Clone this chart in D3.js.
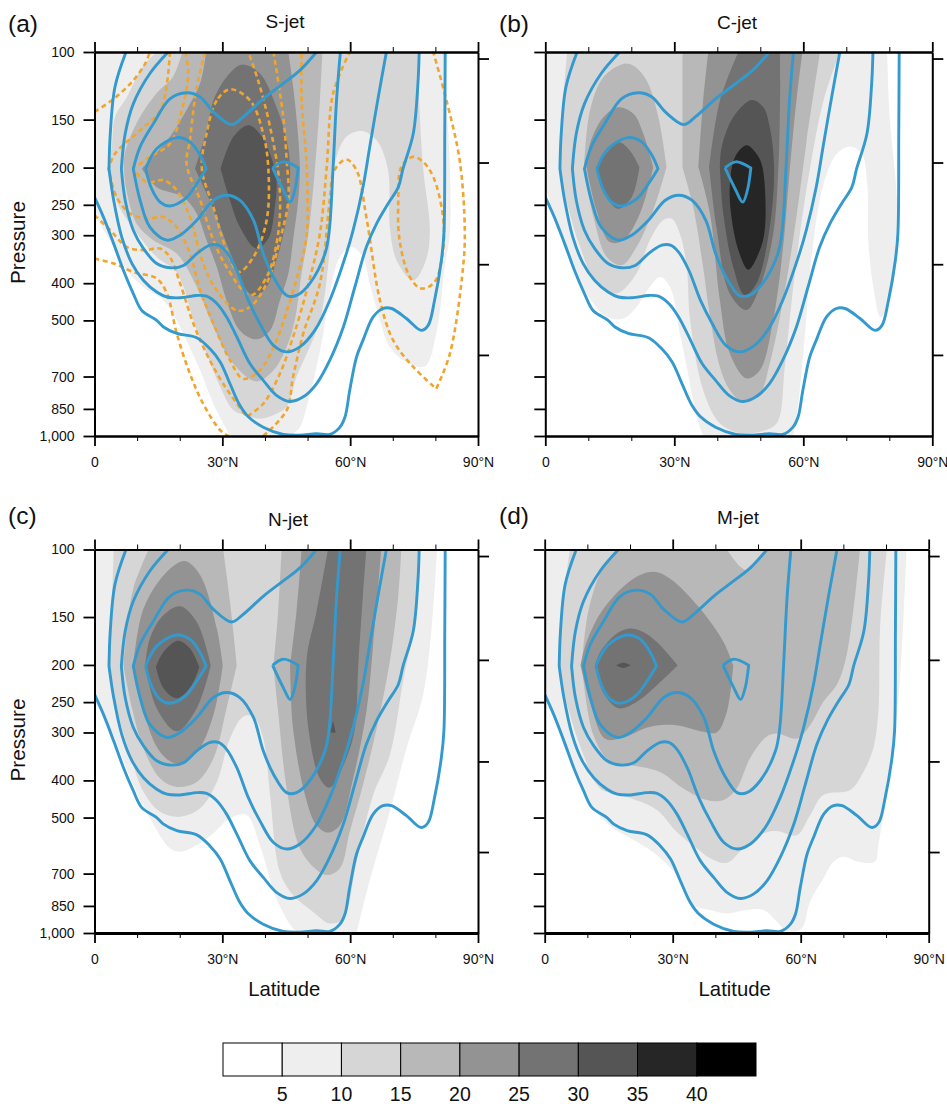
<!DOCTYPE html>
<html>
<head>
<meta charset="utf-8">
<script src="https://cdn.jsdelivr.net/npm/d3@7"></script>
<style>
  html, body { margin: 0; padding: 0; background: #fff; }
  svg { display: block; font-family: "Liberation Sans", Arial, sans-serif; }
  .tick text { font-size: 14px; fill: #111; }
  .axis path { stroke: #000; stroke-width: 2px; }
  .axis .tick line { stroke: #000; stroke-width: 1.8px; }
  .axis.minor .tick line { stroke-width: 1px; }
</style>
</head>
<body>
<div id="wrap"></div>
<script>
//  All contours were read off the picture. Every point is
//  [latitude in degrees, log10(pressure / 100 hPa)], a third element of 1 marks a corner.

const latTicks = [0, 30, 60, 90];
const latMinorTicks = [10, 20, 40, 50, 70, 80];
const pressureTicks = [100, 150, 200, 250, 300, 400, 500, 700, 850, 1000];
const rightPressureTicks = [104, 194, 357, 615];
const shadeLevels = [5, 10, 15, 20, 25, 30, 35, 40];
const shadeColors = ["#ffffff", "#eeeeee", "#d6d6d6", "#b8b8b8", "#939393", "#737373", "#555555", "#262626", "#000000"];

//  Blue climatology contours, the same in all four panels
const blue1 = [[0,.378],[2.1,.43],[4.5,.499],[6.8,.569],[9.1,.629],[11.1,.673],[14.6,.699],[16.2,.716],[19.3,.733],[24,.744],[27.1,.773],[29.5,.807],[31.8,.864],[34.1,.92],[36.1,.95],[39.6,.977],[44.3,.996],[48.2,.998],[52.1,.994],[55.2,.996],[57.6,.977],[58.8,.95],[59.9,.881],[61.5,.794],[63,.751],[65.4,.69],[67.7,.668],[69.7,.668],[73.2,.694],[76.7,.725],[78.3,.712],[79.8,.647],[81.4,.543],[82,.473],[82.2,.213],[82.3,0]];
const blue2 = [[7.4,0],[4.8,.091],[3.7,.213],[3.4,.304,1],[4.5,.386],[6.4,.482],[8.8,.551],[11.5,.595],[14.6,.625],[17,.638],[20.1,.64],[24,.634],[26.3,.636],[28.7,.655],[31,.69],[33.4,.742],[36.5,.812],[39.6,.855],[42.7,.894],[45.9,.91],[49,.898],[52.1,.864],[55.2,.803],[58.4,.716],[61.1,.612],[63.8,.508],[66.2,.447],[68.9,.395],[71.3,.352],[72.4,.304],[74.8,.213],[75.9,.082],[76.2,0]];
const blue3 = [[17.3,0],[13,.056],[9.1,.135],[7.2,.213],[6.3,.304,1],[7.2,.386],[9.1,.464],[11.5,.512],[14.6,.551],[17.7,.562],[20.9,.556],[24,.525],[27.1,.503],[29.1,.503],[31,.521],[33.4,.569],[36.1,.647],[38.8,.707],[42,.764],[45.1,.781],[48.2,.768],[51.7,.725],[55.2,.647],[59.1,.525],[60.7,.464],[63,.352],[64.6,.247],[66.6,.117],[68.5,0]];
const blue4 = [[52.1,0],[48.2,.048],[44.3,.082],[39.6,.122],[34.9,.169],[32.2,.189],[27.9,.156],[24.8,.117],[21.6,.106],[17.7,.122],[13.8,.187],[10.7,.247],[9.1,.304,1],[10.7,.386],[13,.456],[17,.49],[20.1,.477],[24,.438],[27.9,.386],[31,.373],[34.1,.386],[37.3,.438],[39.6,.525],[42,.586],[45.1,.634],[47.4,.634],[50.5,.603],[54.1,.525],[55.1,.464],[56,.299],[56.8,.126],[57.7,0]];
const blue5 = [[12,.304,1],[14.6,.252],[19.3,.223],[22.4,.234],[24.8,.269],[26.2,.304,1],[24,.343],[21.3,.382],[17.7,.401],[15.4,.391],[13.4,.356]];
const blue6 = [[41.8,.302,1],[44.3,.286],[47.8,.302,1],[47,.36],[45.9,.391],[44.3,.36]];

//  Orange dashed contours of panel (a)
const orange1 = [[0,.156],[4.5,.122],[9.1,.074],[11.9,.03],[13,0]];
const orange2 = [[0,.538],[4.5,.551],[9.1,.573],[14.6,.59],[17,.629],[19.3,.733],[22.4,.838],[25.5,.916],[29.5,.985],[31.4,1]];
const orange3 = [[39.6,1],[45.1,.933],[46.6,.846],[49,.733],[52.9,.603],[55.2,.386],[56.3,.308],[59.1,.28],[61.5,.308],[63.8,.43],[67,.647],[70.1,.751],[74.8,.82],[80.2,.877,1],[83.4,.786],[86.5,.56],[86.9,.464],[85.7,.282],[82.6,.126],[79.5,0]];
const orange4 = [[0,.425],[3.7,.464],[7.6,.508],[11.5,.516],[15.4,.512],[17.7,.534],[20.1,.603],[23.2,.707],[26.3,.786],[30.2,.864],[35.7,.95,1],[39.6,.916],[43.5,.838],[46.6,.742],[49.8,.621],[52.9,.473],[54.5,.299],[56,.108],[59.9,0]];
const orange5 = [[17.7,0],[17,.082],[15.4,.152],[10.7,.204],[4.8,.265],[3.3,.304,1],[5.2,.378],[8.4,.421],[12.3,.434],[16.2,.43],[19.3,.456],[22.4,.525],[24.8,.621],[27.9,.707],[31.8,.803],[34.9,.851],[38.8,.829],[42.7,.751],[45.9,.647],[48.2,.56],[49.8,.473],[49.8,.299],[48.6,.126],[48.6,0]];
const orange6 = [[21.3,0],[22,.056],[20.5,.152],[17.7,.239],[13,.273],[9.1,.304,1],[12.3,.339],[16.2,.334],[19.3,.36],[22.4,.43],[25.5,.551],[28.7,.621],[33.4,.673],[36.5,.664],[40.4,.603],[43.5,.49],[45.5,.386],[45.1,.282],[44.3,.169],[42,0]];
const orange7 = [[25.9,0],[24,.091],[23.2,.152],[22.4,.23],[21.6,.291],[24.8,.386],[27.9,.49],[31,.56],[36.5,.634],[40.4,.586],[43.1,.473],[43.4,.343],[41.2,.195],[38.4,.074],[36.1,0]];
const orange8 = [[31.8,.097],[28.7,.126],[26.3,.213],[25.2,.304],[27.9,.404],[31,.516],[33.8,.573],[37.3,.534],[40.4,.438],[40.8,.304],[39.6,.213],[36.5,.126]];
const orange9 = [[74.8,.273],[72,.299],[71.3,.386],[71.6,.49],[74,.586],[76.7,.616],[79.8,.599],[81.8,.516],[81.8,.43],[79.5,.325],[77.1,.286]];

//  Shaded regions of S-jet
const sjet5 = [[0,0,1],[0,.421,1],[1.3,.447],[4.5,.508],[7.6,.569],[11.5,.612],[16.2,.647],[19.3,.699],[21.6,.751],[24.8,.829],[27.9,.916],[31.8,1,1],[45.9,1,1],[48.2,.977],[49.8,.924],[52.1,.82],[53.7,.733],[55.2,.629],[57.6,.534],[60.3,.508],[63,.534],[64.6,.603],[67,.699],[69.3,.768],[73.2,.807],[77.5,.819],[80.2,.733],[82.2,.56],[83.4,.473],[83.4,.299],[82.6,.126],[82.2,0,1]];
const sjet10 = [[14.6,0,1],[11.5,.035],[7.6,.117],[4.8,.169],[4.1,.239],[3.3,.304,1],[4.8,.378],[7.2,.43],[10.3,.477],[14.6,.534],[18.9,.569],[20.9,.612],[23.2,.699],[26.3,.786],[29.5,.872],[32.6,.933],[35.7,.946],[38.8,.955],[42.7,.942],[45.1,.924],[47.4,.846],[49.8,.786],[52.9,.699],[54.8,.56],[55.6,.43],[56.4,.291],[59.1,.221],[62.7,.206],[66.2,.23],[68.9,.308],[69.3,.456],[70.9,.543],[74.8,.595],[77.5,.551],[78.7,.473],[77.1,.299],[76.2,.126],[75.9,0,1]];
const sjet15 = [[20.6,0,1],[18.4,.065],[14.6,.107],[9.9,.185],[7,.27],[7,.32],[8,.386],[9.9,.447],[13.8,.49],[19.3,.525],[24,.612],[27.9,.716],[32.6,.812],[38,.858],[42,.829],[45.1,.768],[47,.699],[48.6,.577],[50.2,.473],[51.7,.308],[52.9,.126],[53.5,0,1]];
const sjet20 = [[26.2,0,1],[24.8,.081],[21.6,.151],[17.7,.221],[14.6,.262],[11.1,.304,1],[14.6,.352],[20.9,.378],[24,.421],[26.3,.49],[28.7,.56],[31,.647],[34.1,.725],[38,.748],[41.2,.725],[43.5,.647],[45.5,.577],[46.6,.49],[47.8,.386],[48.2,.299],[47,.126],[45.5,0,1]];
const sjet25 = [[34.5,.033],[31,.065],[27.9,.126],[26.3,.204],[23.6,.304,1],[26.7,.378],[29.5,.456],[32.6,.543],[35.7,.621],[37.7,.636],[40.4,.612],[42.7,.543],[45.1,.43],[45.9,.304],[45.1,.23],[42.7,.143],[38.8,.056]];
const sjet30 = [[36.1,.191],[32.6,.221],[29.6,.304,1],[31.8,.386],[34.1,.456],[38,.512],[40.8,.486],[42.3,.404],[42.7,.334],[41.2,.265],[38.8,.213]];

//  Shaded regions of C-jet
const cjet5 = [[0,0,1],[0,.352,1],[2.6,.438],[5.7,.534],[9.6,.629],[14.3,.69],[18.1,.694],[21.2,.664],[24.3,.612],[26.7,.586],[29,.612],[31.3,.733],[32.9,.82],[35.2,.95],[36.7,1,1],[57.7,1,1],[58.9,.91],[60.4,.733],[62,.527],[64.7,.344],[67.8,.265],[70.9,.246],[73.6,.265],[74.9,.352],[75.1,.49],[76.3,.612],[78,.69],[79.7,.664],[81.7,.543],[81.8,.387],[80.1,.17],[79.5,0,1]];
const cjet10 = [[5.1,0,1],[3.8,.17],[3.3,.3,1],[5.3,.404],[8.1,.508],[11.9,.603],[16.6,.629],[21.2,.577],[24.3,.49],[27.4,.438],[29.4,.434],[31.3,.473],[32.9,.56],[33.6,.69],[36.7,.88],[40.6,.967],[45.3,.993],[49.9,.989],[53.8,.967],[55.7,.82],[57.3,.647],[59.2,.473],[61.6,.3],[64.7,.127],[68.5,0,1]];
const cjet15a = [[18.1,.031],[13.5,.066],[10.4,.152],[9,.3,1],[11.2,.43],[14.3,.534],[17.8,.555],[21.2,.508],[25.1,.412],[28.2,.3,1],[26.3,.17],[23.6,.075],[20.5,.036]];
const cjet15b = [[31.9,0,1],[31.9,.3,1],[34.4,.404],[36.7,.56],[38.3,.69],[40.6,.82],[42.9,.88],[46,.911],[49.9,.889],[52.2,.811],[55.3,.647],[58.4,.43],[60.8,.23],[63.9,0,1]];
const cjet20a = [[17,.144],[13.5,.17],[10.4,.239],[9.6,.3,1],[11.9,.412],[15,.495],[18.1,.49],[22,.421],[25.1,.3,1],[22.8,.213],[20.5,.161]];
const cjet20b = [[37.9,0,1],[36.7,.127],[35.6,.3,1],[38.3,.421],[40.6,.647],[42.9,.785],[46.8,.85],[49.9,.829],[53,.698],[55.3,.508],[56.9,.3],[58.4,.127],[59.8,0,1]];
const cjet25a = [[17,.235],[11.9,.3,1],[14.3,.378],[17,.408],[20.1,.378],[21.9,.3,1],[19.7,.257]];
const cjet25b = [[44.9,0,1],[40.6,.127],[38.1,.3,1],[39.8,.456],[42.9,.629],[46.8,.672],[49.9,.612],[53,.473],[54.2,.3],[54.6,.127],[54.6,0,1]];
const cjet30 = [[48,.125],[43.7,.17],[41,.248],[40.6,.3,1],[41.4,.421],[43.7,.56],[46.4,.633],[49.1,.603],[52.2,.456],[53.2,.3],[52.2,.196],[50.7,.144]];
const cjet35 = [[46.8,.243],[44.1,.274],[42.9,.352],[43.3,.43],[44.9,.516],[47.2,.567],[49.9,.516],[51.1,.456],[50.5,.3],[49.1,.265]];

//  Shaded regions of N-jet
const njet5 = [[0,0,1],[0,.397,1],[3.7,.467],[9.1,.614],[13,.701],[17.7,.779],[20.1,.788],[24,.771],[27.9,.74],[31.8,.701],[35.7,.692],[38.8,.771],[42.7,.91],[46.6,.988],[48.2,1,1],[61.5,1,1],[62.7,.944],[65.4,.831],[69.3,.684],[73.2,.519],[77.1,.38],[79.1,.206],[80.4,0,1]];
const njet10 = [[4.5,0,1],[4,.162],[3.3,.302,1],[5.2,.414],[8.4,.536],[11.5,.632],[15.4,.684],[20.1,.697],[24.8,.675],[28.7,.606],[31.8,.493],[34.9,.436],[37.3,.436],[39.6,.493],[41.2,.64],[43.5,.84],[46.6,.901],[51.3,.945],[55.2,.975],[58.4,.962],[61.5,.814],[65.4,.64],[69.3,.536],[72.4,.345],[75.5,.162],[76.2,0,1]];
const njet15a = [[12.7,0,1],[9.1,.102],[7.6,.206],[6.8,.302,1],[8.8,.414],[11.5,.519],[15.4,.597],[19.3,.619],[24,.606],[27.9,.545],[31,.414],[33.4,.302,1],[31.8,.136],[30.2,0,1]];
const njet15b = [[43.9,0,1],[43.1,.162],[42,.302,1],[43.1,.423],[45.1,.623],[48.2,.779],[51.7,.831],[54.5,.849],[57.6,.831],[59.9,.736],[63,.614],[66.2,.467],[69.3,.293],[71.3,.119],[72,0,1]];
const njet20a = [[21.2,.03],[17,.058],[11.5,.154],[9.1,.302,1],[11.5,.423],[15.4,.528],[19.3,.558],[24,.528],[27.9,.432],[30.1,.302,1],[28.7,.206],[24.8,.067]];
const njet20b = [[48.6,0,1],[47.4,.162],[45.9,.302,1],[46.6,.467],[49.4,.64],[52.1,.719],[54.8,.738],[57.6,.719],[60.7,.597],[63.8,.423],[65.4,.249],[67.3,0,1]];
const njet25a = [[20.1,.148],[16.2,.171],[13,.232],[11.9,.302,1],[14.6,.414],[19.3,.474],[24,.414],[27.3,.302,1],[24,.189]];
const njet25b = [[54.8,0,1],[52.1,.162],[49.8,.284],[50.2,.467],[52.9,.597],[55.2,.621],[59.1,.545],[61.1,.467],[61.9,.302],[63,.119],[63.8,0,1]];
const njet30a = [[19.6,.238],[16.2,.267],[14.4,.306,1],[16.2,.362],[19.3,.388],[22.8,.354],[24.6,.306,1],[22.4,.258]];
const njet30b = [[56,.447,1],[55.4,.477,1],[56.6,.477,1]];

//  Shaded regions of M-jet
const mjet5 = [[0,0,1],[0,.371,1],[3.6,.467],[7.5,.58],[11.4,.675],[16.1,.727],[21.6,.762],[26.3,.797],[30.9,.849],[34.8,.927],[38.7,.94],[42.6,.949],[47.3,.94],[51.3,.94],[54.4,.97],[56.7,.995],[60.2,.988],[62.2,.918],[65.3,.858],[67.7,.814],[70,.801],[73.5,.814],[77.4,.814],[78.2,.771],[80.9,.58],[83.3,.336],[84.8,0,1]];
const mjet10 = [[5.9,0,1],[4,.162],[3.4,.302,1],[5.5,.414],[9.1,.536],[13,.623],[19.2,.645],[26.3,.679],[30.9,.736],[35.6,.779],[38.8,.805],[42.7,.817],[46.6,.779],[51.3,.74],[54.4,.734],[59.1,.745],[62.2,.693],[65.3,.64],[71.6,.627],[74.7,.58],[77,.519],[78.2,.423],[78.6,.206],[80.2,0,1]];
const mjet15 = [[17.3,0,1],[13.4,.054],[10.2,.162],[8.7,.302,1],[11.4,.484],[15.3,.553],[20,.562],[27,.58],[32.5,.623],[38,.653],[41.9,.653],[45,.623],[48.1,.545],[52,.488],[54.4,.48],[59.1,.493],[62.2,.458],[65.3,.397],[68.4,.354],[70.4,.293],[72.3,.162],[73.9,0,1],[52,0,1],[47.3,.054],[42.7,0,1]];
const mjet20 = [[25.5,.058],[20.8,.076],[13.8,.154],[9.8,.241],[8.4,.302,1],[10.6,.397],[14.1,.493],[17.7,.493],[24.7,.462],[30.9,.458],[37.2,.475],[40.3,.477],[42.7,.423],[44.2,.302,1],[41.9,.241],[36.4,.154],[29.4,.076]];
const mjet25 = [[20,.206],[16.9,.219],[13,.267],[11.8,.302,1],[13.8,.375],[17.3,.414],[21.6,.397],[26.3,.354],[31.2,.302,1],[26.3,.241],[23.1,.215]];
const mjet30 = [[16.7,.302,1],[18.4,.295],[20.2,.302,1],[18.4,.309]];

//  Table of the panels, built from the arrays above
const panels = [
  { tag: "(a)", title: "S-jet", left: 94.5, right: 478, top: 52, bottom: 436, tagY: 32, titleX: 285, titleY: 28, yLabels: true, xTitle: false,
    shades: [[1, sjet5], [2, sjet10], [3, sjet15], [4, sjet20], [5, sjet25], [6, sjet30]],
    orange: true },
  { tag: "(b)", title: "C-jet", left: 545.3, right: 932.3, top: 52, bottom: 436, tagY: 32, titleX: 737, titleY: 29, yLabels: false, xTitle: false,
    shades: [[1, cjet5], [2, cjet10], [3, cjet15a], [3, cjet15b], [4, cjet20a], [4, cjet20b], [5, cjet25a], [5, cjet25b], [6, cjet30], [7, cjet35]] },
  { tag: "(c)", title: "N-jet", left: 94.5, right: 478, top: 549.5, bottom: 933, tagY: 524, titleX: 288, titleY: 526, yLabels: true, xTitle: true,
    shades: [[1, njet5], [2, njet10], [3, njet15a], [3, njet15b], [4, njet20a], [4, njet20b], [5, njet25a], [5, njet25b], [6, njet30a], [6, njet30b]] },
  { tag: "(d)", title: "M-jet", left: 544.7, right: 928.7, top: 549.5, bottom: 933, tagY: 524, titleX: 738, titleY: 524, yLabels: false, xTitle: true,
    shades: [[1, mjet5], [2, mjet10], [3, mjet15], [4, mjet20], [5, mjet25], [6, mjet30]] },
];
const blueLines = [blue1, blue2, blue3, blue4];
const blueLoops = [blue5, blue6];
const orangeLines = [orange1, orange2, orange3, orange4, orange5, orange6, orange7];
const orangeLoops = [orange8, orange9];

const svg = d3.select("#wrap").append("svg").attr("width", 947).attr("height", 1104);

//  A corner is made by repeating the point, Catmull-Rom then comes to a stop there
const withCorners = (pts) => pts.flatMap((p) => (p[2] ? [p, p] : [p]));

panels.forEach((panel, i) => {
  const x = d3.scaleLinear().domain([0, 90]).range([panel.left, panel.right]);
  const y = d3.scaleLog().domain([100, 1000]).range([panel.top, panel.bottom]);
  const py = (d) => y(100 * Math.pow(10, d));

  const open = d3.line().x((d) => x(d[0])).y((d) => py(d[1])).curve(d3.curveCatmullRom.alpha(0.5));
  const closed = d3.line().x((d) => x(d[0])).y((d) => py(d[1])).curve(d3.curveCatmullRomClosed.alpha(0.5));

  svg.append("clipPath").attr("id", "clip" + i).append("rect")
    .attr("x", panel.left).attr("y", panel.top)
    .attr("width", panel.right - panel.left).attr("height", panel.bottom - panel.top);

  const g = svg.append("g").attr("clip-path", "url(#clip" + i + ")");

  //  Grey shading, light to dark
  g.selectAll(".shade").data(panel.shades).enter().append("path")
    .attr("class", "shade")
    .attr("d", (d) => closed(withCorners(d[1])))
    .attr("fill", (d) => shadeColors[d[0]]);

  const drawLines = (lines, loops, color, width, dash) => {
    const all = lines.map((l) => open(withCorners(l))).concat(loops.map((l) => closed(withCorners(l))));
    g.selectAll(null).data(all).enter().append("path")
      .attr("d", (d) => d)
      .attr("fill", "none")
      .attr("stroke", color)
      .attr("stroke-width", width)
      .attr("stroke-dasharray", dash)
      .attr("stroke-linejoin", "round");
  };
  //  Orange goes under the blue lines
  if (panel.orange) drawLines(orangeLines, orangeLoops, "#f0a52f", 2.6, "5,3.5");
  drawLines(blueLines, blueLoops, "#3499cd", 2.9, null);

  //  Axes, with major and minor ticks on the left and bottom side, top and right are unlabelled
  const latFormat = (d) => (d === 0 ? "0" : d + "°N");
  const bottomAxis = svg.append("g").attr("class", "axis").attr("transform", "translate(0," + panel.bottom + ")")
    .call(d3.axisBottom(x).tickValues(latTicks).tickFormat(latFormat).tickSize(10).tickSizeOuter(0).tickPadding(11));
  if (panel.xTitle) bottomAxis.select("path").style("stroke-width", "3px");
  svg.append("g").attr("class", "axis minor").attr("transform", "translate(0," + panel.bottom + ")")
    .call(d3.axisBottom(x).tickValues(latMinorTicks).tickFormat("").tickSize(5).tickSizeOuter(0));
  svg.append("g").attr("class", "axis").attr("transform", "translate(0," + panel.top + ")")
    .call(d3.axisTop(x).tickValues(latTicks).tickFormat("").tickSize(10).tickSizeOuter(0));
  svg.append("g").attr("class", "axis minor").attr("transform", "translate(0," + panel.top + ")")
    .call(d3.axisTop(x).tickValues(latMinorTicks).tickFormat("").tickSize(5).tickSizeOuter(0));
  svg.append("g").attr("class", "axis").attr("transform", "translate(" + panel.left + ",0)")
    .call(d3.axisLeft(y).tickValues(pressureTicks).tickSize(11).tickSizeOuter(0).tickPadding(9)
      .tickFormat(panel.yLabels ? d3.format(",") : ""));
  svg.append("g").attr("class", "axis").attr("transform", "translate(" + panel.right + ",0)")
    .call(d3.axisRight(y).tickValues(rightPressureTicks).tickSize(11).tickSizeOuter(0).tickFormat(""));

  //  Panel letter and titles
  svg.append("text").attr("x", panel.left < 100 ? 8 : 499).attr("y", panel.tagY)
    .attr("font-size", 24.5).attr("fill", "#111").text(panel.tag);
  svg.append("text").attr("x", panel.titleX).attr("y", panel.titleY)
    .attr("text-anchor", "middle").attr("font-size", 19).attr("fill", "#111").text(panel.title);
  if (panel.yLabels) {
    svg.append("text")
      .attr("transform", "translate(25," + (panel.top + 190.5) + ") rotate(-90)")
      .attr("text-anchor", "middle").attr("font-size", 20.8).attr("fill", "#111").text("Pressure");
  }
  if (panel.xTitle) {
    svg.append("text").attr("x", (panel.left + panel.right) / 2 - 2).attr("y", 996)
      .attr("text-anchor", "middle").attr("font-size", 20.3).attr("fill", "#111").text("Latitude");
  }
});

//  Colour bar at the bottom
const barScale = d3.scaleLinear().domain([0, 45]).range([223, 756]);
const barTop = 1043, barBottom = 1076;
const barEdges = [0].concat(shadeLevels);
svg.selectAll(".box").data(shadeColors).enter().append("rect")
  .attr("class", "box")
  .attr("x", (d, i) => barScale(barEdges[i]))
  .attr("y", barTop)
  .attr("width", barScale(5) - barScale(0))
  .attr("height", barBottom - barTop)
  .attr("fill", (d) => d)
  .attr("stroke", "#000")
  .attr("stroke-width", 1);
svg.selectAll(".barlabel").data(shadeLevels).enter().append("text")
  .attr("class", "barlabel")
  .attr("x", (d) => barScale(d))
  .attr("y", 1101)
  .attr("text-anchor", "middle")
  .attr("font-size", 19.5)
  .attr("fill", "#111")
  .text((d) => d);
</script>
</body>
</html>
